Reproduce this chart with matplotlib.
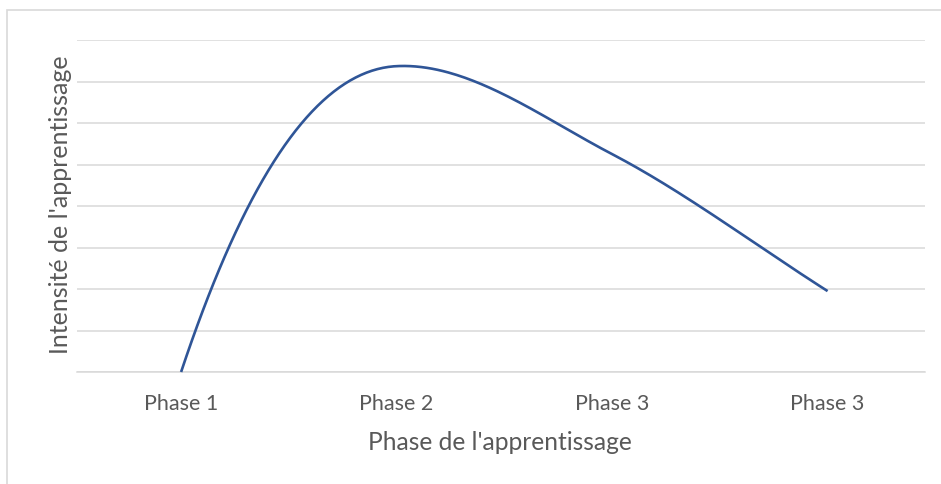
import numpy as np
import matplotlib
matplotlib.use("Agg")
import matplotlib.pyplot as plt
from matplotlib.patches import Rectangle

# ---- data ----
categories = ["Phase 1", "Phase 2", "Phase 3", "Phase 3"]
intensity = [0.0, 7.37, 5.25, 1.95]
y_ticks = [0, 1, 2, 3, 4, 5, 6, 7, 8]
x_title = "Phase de l'apprentissage"
y_title = "Intensité de l'apprentissage"

# ---- style ----
W, H = 941, 484
LINE_COLOR = "#2F5597"
GRID_COLOR = "#D9D9D9"
TEXT_COLOR = "#595959"
FONT = ["Lato", "DejaVu Sans"]

plt.rcParams["font.family"] = FONT

fig = plt.figure(figsize=(W / 100, H / 100), dpi=100)
fig.patch.set_facecolor("white")

# chart-area border (Excel style, light grey)
fig.patches.append(Rectangle((7 / W, -0.2), 1.2, 1.2 - 10 / H, transform=fig.transFigure,
                             fill=False, edgecolor=GRID_COLOR, linewidth=1.2, zorder=0))

left, right = 77 / W, 925 / W
bottom, top = 1 - 372 / H, 1 - 40 / H
ax = fig.add_axes([left, bottom, right - left, top - bottom])

x = np.arange(len(categories), dtype=float)
y = np.array(intensity, dtype=float)

# smoothed line (cubic Hermite, Excel-like "smoothed line" rendering)
d = np.diff(y)
m = np.zeros_like(y)
for i in range(1, len(y) - 1):
    central = (d[i - 1] + d[i]) / 2
    if d[i - 1] * d[i] <= 0:
        m[i] = 0.1 * central
    else:
        m[i] = central
m[0] = 2.15 * d[0] - m[1]
m[-1] = d[-1]

xs, ys = [], []
t = np.linspace(0, 1, 80)
h00 = 2 * t**3 - 3 * t**2 + 1
h10 = t**3 - 2 * t**2 + t
h01 = -2 * t**3 + 3 * t**2
h11 = t**3 - t**2
for i in range(len(y) - 1):
    xs.append(x[i] + t)
    ys.append(h00 * y[i] + h10 * m[i] + h01 * y[i + 1] + h11 * m[i + 1])
xs = np.concatenate(xs)
ys = np.concatenate(ys)
ax.plot(xs, ys, color=LINE_COLOR, linewidth=1.9, solid_capstyle="butt", zorder=3, clip_on=False)

ax.set_xlim(-0.483, 3.452)
ax.set_ylim(y_ticks[0], y_ticks[-1])
ax.set_yticks(y_ticks)
ax.set_yticklabels([])
ax.set_xticks(x)
ax.set_xticklabels(categories, color=TEXT_COLOR, fontsize=15.5)
ax.tick_params(axis="both", length=0)
ax.tick_params(axis="x", pad=16)
ax.grid(axis="y", color=GRID_COLOR, linewidth=1.1)
ax.set_axisbelow(True)
for s in ["top", "right", "left"]:
    ax.spines[s].set_visible(False)
ax.spines["bottom"].set_color(GRID_COLOR)
ax.spines["bottom"].set_linewidth(1.1)
ax.set_facecolor("none")

fig.text(500 / W, 1 - 442 / H, x_title, ha="center", va="center", color=TEXT_COLOR, fontsize=17.7)
fig.text(61 / W, 1 - 205 / H, y_title, ha="center", va="center", rotation=90,
         color=TEXT_COLOR, fontsize=18)

fig.savefig("out.png", dpi=100, facecolor="white")
